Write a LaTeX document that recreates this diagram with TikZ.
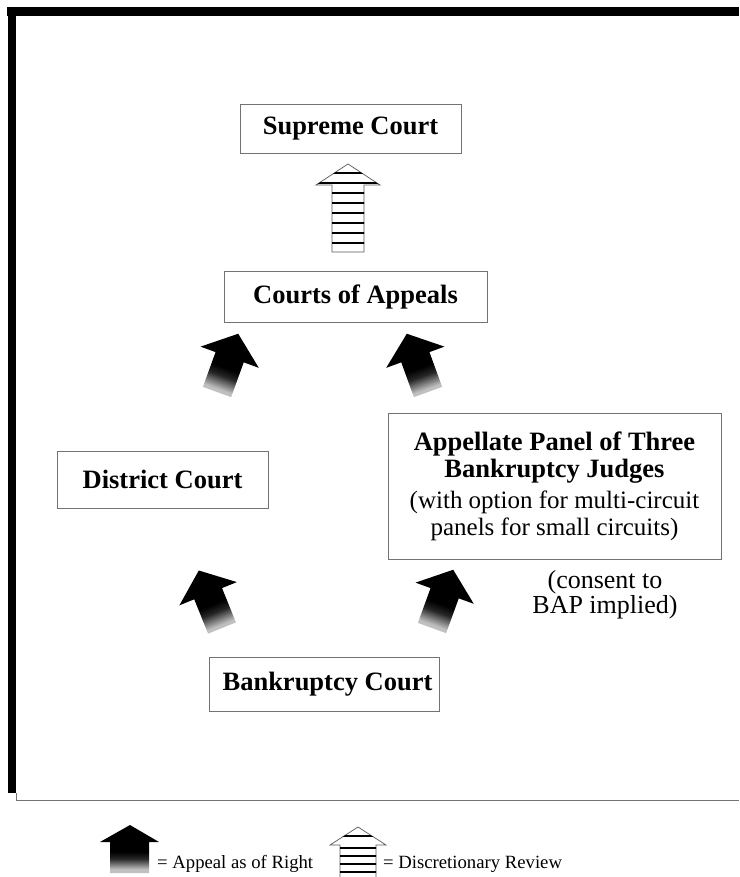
\documentclass[tikz,border=0pt]{standalone}
\usepackage{fontspec}
\setmainfont{Liberation Serif}
\usetikzlibrary{calc}

% dark arrow that fades into grey at its tail
\pgfdeclareverticalshading{rightfade}{100bp}{%
  color(0bp)=(black!20); color(29bp)=(black!25); color(40bp)=(black!85);
  color(47bp)=(black); color(100bp)=(black)}

% striped outline arrow: centre x, tip y, head-base y, bottom y, head half width, shaft half width, stripe list
\newcommand\stripedarrow[7]{%
  \path[draw=black!65, line width=0.7pt, fill=white]
    (#1-#6,#4) -- (#1-#6,#3) -- (#1-#5,#3) -- (#1,#2) -- (#1+#5,#3)
    -- (#1+#6,#3) -- (#1+#6,#4) -- cycle;
  \begin{scope}
    \clip (#1-#6,#4) -- (#1-#6,#3) -- (#1-#5,#3) -- (#1,#2) -- (#1+#5,#3)
      -- (#1+#6,#3) -- (#1+#6,#4) -- cycle;
    \foreach \yy in {#7} \draw[stripe] (#1-#5,\yy) -- (#1+#5,\yy);
  \end{scope}}

\tikzset{
  x=1pt, y=-1pt,
  court/.style={draw=black!55, line width=0.8pt, fill=white, inner sep=0pt,
    font=\fontsize{26.5}{30}\selectfont\bfseries},
  note/.style={inner sep=0pt, align=center, font=\fontsize{26}{23}\selectfont},
  legendtext/.style={inner sep=0pt, anchor=base west, font=\fontsize{18.7}{22}\selectfont},
  stripe/.style={line width=1.4pt, black},
  pics/appeal/.style={code={
    \shade[shading=rightfade, shading angle=#1]
      (-15,0) -- (-15,-37) -- (-31,-37) -- (0,-62) -- (31,-37)
      -- (15,-37) -- (15,0) -- cycle;
  }},
}

\begin{document}
\begin{tikzpicture}
\useasboundingbox[fill=white] (0,0) rectangle (739,877);

% frame
\fill[black] (7,7) rectangle (739,16);
\fill[black] (8,7) rectangle (16,793);
\draw[black!55, line width=0.7pt] (16,793) -- (16,800) -- (739,800);

% courts
\node[court, minimum width=221pt, minimum height=49pt] (sc) at (350.5,128.5) {\raisebox{-2pt}{Supreme Court}};
\node[court, minimum width=263pt, minimum height=51pt] (coa) at (355.5,296.5) {\raisebox{-1pt}{Courts of Appeals}};
\node[court, minimum width=211pt, minimum height=57pt] (dc) at (162.5,479.5) {District Court\hspace{10pt}};
\node[court, minimum width=333pt, minimum height=146pt, align=center] (bap) at (554.5,486)
  {Appellate Panel of Three\\[-3pt]Bankruptcy Judges\\[1pt]
   \mdseries\fontsize{25}{24}\selectfont (with option for multi-circuit\\[-3pt]
   \mdseries\fontsize{25}{24}\selectfont panels for small circuits)};
\node[court, minimum width=230pt, minimum height=54pt] (bc) at (324,684) {\hspace{7pt}Bankruptcy Court};
\node[note] (consent) at (605,595) {(consent to\\BAP implied)};

% appeals as of right
\coordinate (t1) at (217,392);
\coordinate (t2) at (428,392);
\coordinate (t3) at (222,628);
\coordinate (t4) at (432,628);
\pic[rotate=-20] at (t1) {appeal=-20};
\pic[rotate=20] at (t2) {appeal=20};
\pic[rotate=22] at (t3) {appeal=22};
\pic[rotate=-20] at (t4) {appeal=-20};

% discretionary review
\stripedarrow{348}{164}{185}{252}{32}{16}{173,183,193,203,213,223,233,243}

% legend
\shade[shading=rightfade] (110,873) -- (110,842) -- (100,842) -- (130,825) -- (159,842) -- (149,842) -- (149,873) -- cycle;
\node[legendtext] (lright) at (157,868) {= Appeal as of Right};
\stripedarrow{358}{827}{845}{879}{28}{18}{836,848,856,864,872}
\node[legendtext] (ldisc) at (383,868) {= Discretionary Review};
\end{tikzpicture}
\end{document}
